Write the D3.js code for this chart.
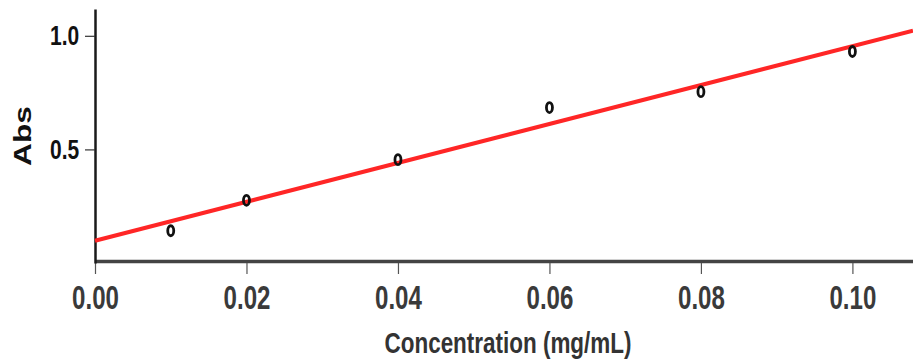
<!DOCTYPE html>
<html>
<head>
<meta charset="utf-8">
<script src="https://cdn.jsdelivr.net/npm/d3@7"></script>
<style>
  body { margin: 0; background: #fff; }
  svg { display: block; font-family: "Liberation Sans", Arial, sans-serif; }
</style>
</head>
<body>
<div id="chart"></div>
<script>
const concentration = [0.01, 0.02, 0.04, 0.06, 0.08, 0.10];
const absorbance = [0.142, 0.276, 0.455, 0.684, 0.754, 0.931];
const xTicks = [0.00, 0.02, 0.04, 0.06, 0.08, 0.10];
const yTicks = [0.5, 1.0];

const width = 913, height = 363;
const margin = {top: 9, right: 0, bottom: 100, left: 95};

let svg = d3.select('#chart')
    .append('svg')
    .attr('width', width)
    .attr('height', height);

let xScale = d3.scaleLinear()
    .domain([0, 0.108])
    .range([margin.left, width - margin.right]);

let yScale = d3.scaleLinear()
    .domain([0, 1.118])
    .range([263, margin.top]);

// least squares fit through the points
const mx = d3.mean(concentration), my = d3.mean(absorbance);
const sxy = d3.sum(concentration, (x, i) => (x - mx) * (absorbance[i] - my));
const sxx = d3.sum(concentration, x => (x - mx) * (x - mx));
const slope = sxy / sxx, intercept = my - slope * mx;

// x axis
const xAxis = d3.axisBottom(xScale)
    .tickValues(xTicks)
    .tickFormat(d3.format('.2f'))
    .tickSizeInner(13)
    .tickSizeOuter(0)
    .tickPadding(12);

let x_labels = svg.append('g')
    .attr('class', 'axis x-axis')
    .attr('transform', 'translate(0, 261)')
    .call(xAxis);

x_labels.select('.domain')
    .attr('stroke', '#444')
    .attr('stroke-width', 3.5);
x_labels.selectAll('.tick line')
    .attr('stroke', '#555')
    .attr('stroke-width', 1.2)
    .attr('y1', 2);
x_labels.selectAll('.tick text')
    .attr('fill', '#3a3a3a')
    .style('font-size', '33px')
    .style('font-weight', 'bold')
    .attr('dy', '0.71em')
    .attr('transform', 'scale(0.73,1)');

// y axis
const yAxis = d3.axisLeft(yScale)
    .tickValues(yTicks)
    .tickFormat(d3.format('.1f'))
    .tickSizeInner(10)
    .tickSizeOuter(0)
    .tickPadding(6);

let y_labels = svg.append('g')
    .attr('class', 'axis y-axis')
    .attr('transform', `translate(${margin.left}, 0)`)
    .call(yAxis);

y_labels.select('.domain')
    .attr('stroke', '#1a1a1a')
    .attr('stroke-width', 2.5);
y_labels.selectAll('.tick line')
    .attr('stroke', '#333')
    .attr('stroke-width', 1.2);
y_labels.selectAll('.tick text')
    .attr('fill', '#111')
    .style('font-size', '28px')
    .style('font-weight', 'bold')
    .attr('x', -21)
    .attr('transform', 'scale(0.75,1)');

// axis titles
svg.append('text')
    .attr('x', 508)
    .attr('y', 353)
    .attr('text-anchor', 'middle')
    .attr('fill', '#333')
    .style('font-size', '29px')
    .style('font-weight', 'bold')
    .attr('textLength', 247)
    .attr('lengthAdjust', 'spacingAndGlyphs')
    .text('Concentration (mg/mL)');

svg.append('text')
    .attr('transform', 'translate(31, 136) rotate(-90)')
    .attr('text-anchor', 'middle')
    .attr('fill', '#111')
    .style('font-size', '24px')
    .style('font-weight', 'bold')
    .attr('textLength', 60)
    .attr('lengthAdjust', 'spacingAndGlyphs')
    .text('Abs');

// fit line
const fit = xScale.domain().map(x => ({x: x, y: intercept + slope * x}));
svg.append('path')
    .datum(fit)
    .attr('fill', 'none')
    .attr('stroke', '#ff2626')
    .attr('stroke-width', 4)
    .attr('d', d3.line().x(d => xScale(d.x)).y(d => yScale(d.y)));

// data points
svg.append('g')
    .selectAll('ellipse')
    .data(concentration)
    .join('ellipse')
    .attr('cx', d => xScale(d))
    .attr('cy', (d, i) => yScale(absorbance[i]))
    .attr('rx', 3)
    .attr('ry', 5)
    .attr('fill', 'none')
    .attr('stroke', '#111')
    .attr('stroke-width', 2.8);
</script>
</body>
</html>
